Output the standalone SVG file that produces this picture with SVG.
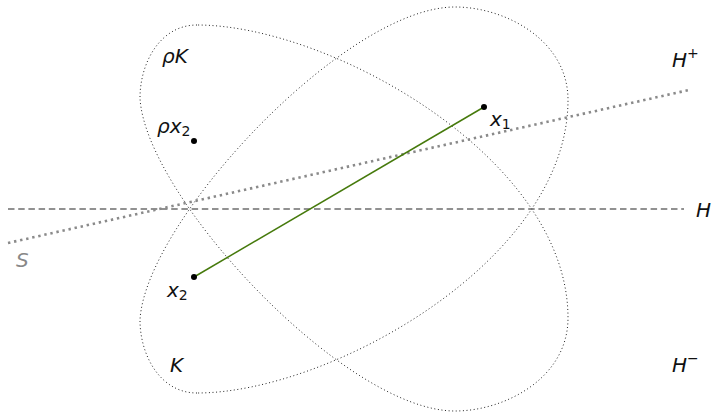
<svg xmlns="http://www.w3.org/2000/svg" width="715" height="413" viewBox="0 0 715 413">
<style>
.blob{fill:none;stroke:#222;stroke-width:1;stroke-dasharray:1 2.6}
.lbl{font-family:"DejaVu Sans",sans-serif;font-size:20px;font-style:italic;fill:#111}
.sub{font-size:14px;font-style:normal}
.pt{fill:#000}
</style>
<defs>
<path id="kshape" d="M197,393 C160,393 140,355 140,320 C145,222 345,7 455,7 C505,7 568,40 568,100 C568,260 330,393 197,393 Z"/>
</defs>
<g id="regionK"><use href="#kshape" class="blob"/></g>
<g id="regionRhoK"><use href="#kshape" class="blob" transform="matrix(1,0,0,-1,0,418)"/></g>
<g id="connectors">
<line id="lineH" x1="8" y1="209" x2="684" y2="209" stroke="#6e6e6e" stroke-width="1.4" stroke-dasharray="6.5 3.7"/>
<line id="lineS" x1="8" y1="243" x2="689" y2="90" stroke="#8a8a8a" stroke-width="2.6" stroke-dasharray="2.4 3.8"/>
<line id="seg" x1="194" y1="277" x2="484" y2="107" stroke="#467a0c" stroke-width="1.5"/>
</g>
<g id="x1"><circle class="pt" cx="484" cy="107" r="3"/><text class="lbl" x="490" y="126">x<tspan class="sub" dy="3">1</tspan></text></g>
<g id="x2"><circle class="pt" cx="194" cy="277" r="3"/><text class="lbl" x="167" y="297">x<tspan class="sub" dy="3">2</tspan></text></g>
<g id="rhox2"><circle class="pt" cx="194" cy="141" r="3"/><text class="lbl" x="157" y="133">ρx<tspan class="sub" dy="3">2</tspan></text></g>
<g id="labels">
<text class="lbl" x="162" y="63">ρK</text>
<text class="lbl" x="170" y="372">K</text>
<text class="lbl" x="672" y="67">H<tspan class="sub" dy="-9">+</tspan></text>
<text class="lbl" x="672" y="372">H<tspan class="sub" dy="-9">−</tspan></text>
<text class="lbl" x="696" y="217">H</text>
<text class="lbl" x="16" y="267" style="fill:#888">S</text>
</g>
</svg>
